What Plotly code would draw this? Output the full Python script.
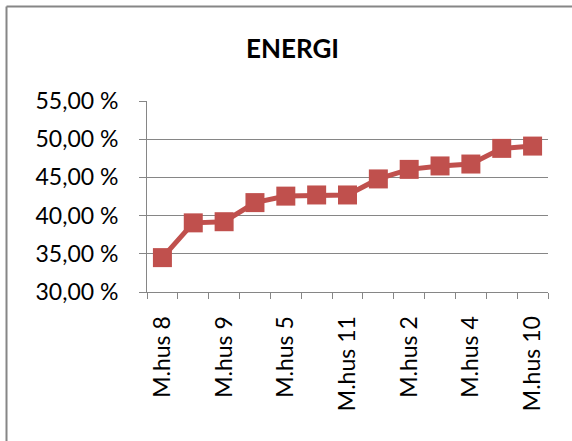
import plotly.graph_objects as go

categories = ["M.hus 8", "M.hus 1", "M.hus 9", "M.hus 3", "M.hus 5", "M.hus 6", "M.hus 11",
              "M.hus 7", "M.hus 2", "M.hus 12", "M.hus 4", "M.hus 13", "M.hus 10"]
values = [34.5, 39.05, 39.2, 41.7, 42.55, 42.7, 42.7, 44.8, 46.05, 46.5, 46.75, 48.8, 49.1]
y_ticks = [30, 35, 40, 45, 50, 55]
y_tick_labels = ["30,00 %", "35,00 %", "40,00 %", "45,00 %", "50,00 %", "55,00 %"]
x_tick_labels = [c if i % 2 == 0 else "" for i, c in enumerate(categories)]

FONT = "Lato"
RED = "#C0504D"
GRAY = "#868686"

fig = go.Figure()
fig.add_trace(go.Scatter(
    x=categories, y=values, mode="lines+markers",
    line=dict(color=RED, width=5),
    marker=dict(symbol="square", size=19, color=RED),
    showlegend=False,
))

bx0 = (6.5 - 147) / 401
by1 = 1 + (101 - 7) / 190

fig.update_layout(
    width=572, height=441,
    margin=dict(l=147, r=24, t=101, b=149),
    paper_bgcolor="white", plot_bgcolor="white",
    font=dict(family=FONT, color="black", size=23),
    title=dict(text="<b>ENERGI</b>", x=292.5 / 572, xref="container", xanchor="center",
               y=1 - 49 / 441, yref="container", yanchor="middle",
               font=dict(family=FONT, size=26, color="black")),
    xaxis=dict(
        type="category", tickmode="array", tickvals=categories, ticktext=x_tick_labels,
        range=[-0.5, len(categories) - 0.5], autorange=False,
        tickson="boundaries", ticks="outside", ticklen=6, tickcolor=GRAY, tickwidth=1,
        showline=True, linecolor=GRAY, linewidth=1, showgrid=False,
        tickangle=-90, ticklabelstandoff=14, automargin=False,
        tickfont=dict(family=FONT, size=23),
    ),
    yaxis=dict(
        range=[30, 55], tickmode="array", tickvals=y_ticks, ticktext=y_tick_labels,
        ticks="outside", ticklen=7, tickcolor=GRAY, tickwidth=1,
        showline=True, linecolor=GRAY, linewidth=1,
        showgrid=True, gridcolor=GRAY, gridwidth=1, zeroline=False,
        ticklabelstandoff=16, automargin=False,
        tickfont=dict(family=FONT, size=23),
    ),
    shapes=[
        dict(type="line", xref="paper", yref="paper", x0=bx0, x1=bx0, y0=-0.8, y1=by1,
             line=dict(color=GRAY, width=2), layer="below"),
        dict(type="line", xref="paper", yref="paper", x0=bx0, x1=1.3, y0=by1, y1=by1,
             line=dict(color=GRAY, width=2), layer="below"),
    ],
)

fig.write_html("out.html", config={"responsive": False, "displayModeBar": False},
               post_script="document.body.style.margin='0';document.body.style.overflow='hidden';")
